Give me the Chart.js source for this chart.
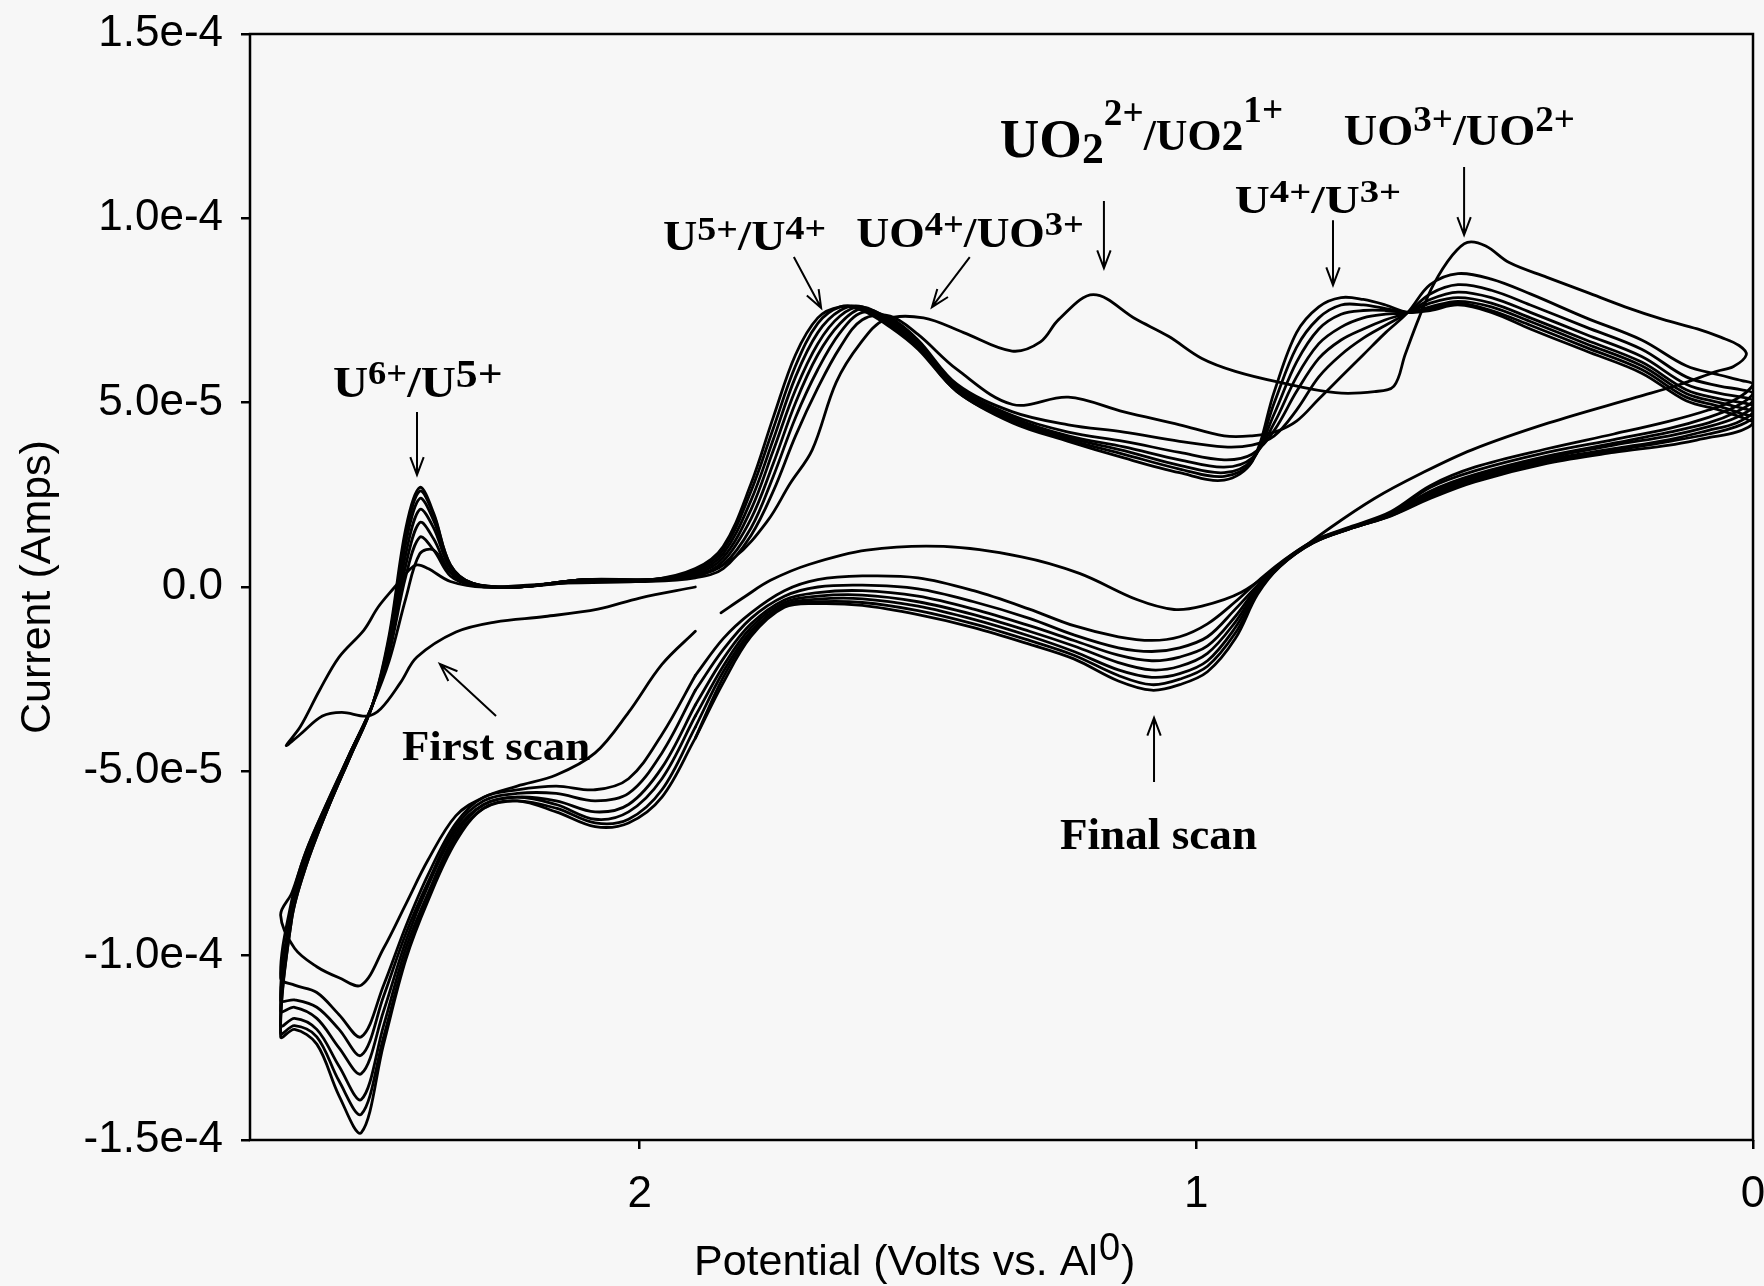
<!DOCTYPE html>
<html>
<head>
<meta charset="utf-8">
<title>Cyclic voltammogram - uranium species</title>
<script src="https://cdn.jsdelivr.net/npm/chart.js@4.4.1/dist/chart.umd.min.js"></script>
<style>
  html, body { margin: 0; padding: 0; background: #f7f7f7; overflow: hidden; }
  #wrap { width: 1764px; height: 1286px; }
</style>
</head>
<body>
<div id="wrap"><canvas id="cv" width="1764" height="1286"></canvas></div>
<script>
// potential grids (Volts vs Al0) used by scans 2..8
const lowerV = [1.90, 1.96, 2.02, 2.08, 2.15, 2.22, 2.28, 2.33, 2.38, 2.42, 2.46, 2.50, 2.54, 2.58, 2.62, 2.645];
const fwdV = [2.625, 2.60, 2.56, 2.52, 2.48, 2.45, 2.42, 2.395, 2.37, 2.34, 2.30, 2.22, 2.10, 1.98, 1.90,
  1.85, 1.80, 1.76, 1.72, 1.68, 1.64, 1.60, 1.55, 1.50, 1.43, 1.33, 1.23, 1.13, 1.03, 0.95,
  0.90, 0.86, 0.82, 0.78, 0.74, 0.70, 0.66, 0.62, 0.58, 0.53, 0.47, 0.40, 0.30, 0.20, 0.12, 0.06, 0.02, 0.0];
const revV = [0.03, 0.08, 0.15, 0.25, 0.37, 0.50, 0.58, 0.65, 0.72, 0.79, 0.85, 0.89, 0.93, 0.98, 1.03,
  1.08, 1.14, 1.22, 1.30, 1.40, 1.50, 1.60, 1.68, 1.74, 1.80, 1.85, 1.90];

// currents, in units of 1e-5 A
const lowerI2 = [-1.2, -2.1, -3.4, -4.5, -5.1, -5.4, -5.7, -6.2, -7.4, -8.6, -9.8, -10.8, -10.6, -10.3, -9.8, -8.9];
const lowerI3 = [-2.4, -4.0, -5.2, -5.5, -5.4, -5.5, -5.7, -6.4, -7.8, -9.2, -10.8, -12.2, -11.6, -11.0, -10.8, -10.6];
const lowerI4 = [-2.8, -4.5, -5.6, -5.8, -5.6, -5.6, -5.8, -6.5, -8.0, -9.4, -11.1, -12.7, -12.0, -11.4, -11.2, -11.2];
const lowerI5 = [-3.2, -4.9, -5.9, -6.1, -5.8, -5.7, -5.9, -6.6, -8.1, -9.6, -11.5, -13.2, -12.5, -11.7, -11.4, -11.5];
const lowerI6 = [-3.5, -5.2, -6.1, -6.3, -5.9, -5.7, -5.9, -6.7, -8.3, -9.8, -11.9, -13.9, -13.0, -12.0, -11.7, -11.9];
const lowerI7 = [-3.8, -5.5, -6.3, -6.4, -6.0, -5.8, -6.0, -6.8, -8.4, -10.0, -12.2, -14.3, -13.4, -12.2, -11.9, -12.1];
const lowerI8 = [-4.1, -5.7, -6.4, -6.5, -6.1, -5.8, -6.0, -6.9, -8.5, -10.1, -12.4, -14.8, -13.8, -12.4, -12.0, -12.2];

const fwdI2 = [-8.3, -7.2, -5.8, -4.5, -3.2, -2.0, -0.3, 0.9, 1.0, 0.4, 0.05, 0.0, 0.15, 0.15, 0.25,
  0.5, 1.4, 2.6, 4.1, 5.4, 6.5, 7.25, 7.35, 6.85, 5.9, 4.95, 5.15, 4.75, 4.4, 4.1,
  4.1, 4.2, 4.5, 5.1, 5.7, 6.3, 6.9, 7.45, 8.2, 8.5, 8.35, 7.95, 7.3, 6.7, 6.0, 5.75, 5.6, 5.5];
const fwdI3 = [-8.5, -7.2, -5.8, -4.5, -3.2, -1.8, 0.3, 1.35, 1.0, 0.3, 0.05, 0.0, 0.15, 0.2, 0.3,
  0.6, 1.6, 3.0, 4.6, 5.9, 6.9, 7.45, 7.3, 6.7, 5.5, 4.75, 4.4, 4.2, 3.95, 3.8,
  3.85, 4.1, 4.8, 5.7, 6.3, 6.75, 7.1, 7.45, 7.95, 8.2, 8.05, 7.65, 7.05, 6.45, 5.7, 5.45, 5.35, 5.25];
const fwdI4 = [-8.7, -7.3, -5.9, -4.5, -3.2, -1.7, 0.6, 1.75, 1.3, 0.4, 0.05, 0.0, 0.2, 0.2, 0.3,
  0.7, 1.85, 3.35, 5.0, 6.3, 7.15, 7.55, 7.25, 6.65, 5.45, 4.65, 4.2, 3.95, 3.65, 3.45,
  3.6, 4.25, 5.3, 6.2, 6.7, 7.0, 7.25, 7.45, 7.8, 8.0, 7.85, 7.45, 6.85, 6.25, 5.5, 5.25, 5.15, 5.05];
const fwdI5 = [-8.8, -7.4, -5.9, -4.5, -3.2, -1.6, 0.9, 2.1, 1.6, 0.5, 0.1, 0.0, 0.2, 0.2, 0.35,
  0.8, 2.1, 3.7, 5.35, 6.6, 7.35, 7.6, 7.2, 6.6, 5.4, 4.6, 4.1, 3.8, 3.45, 3.25,
  3.5, 4.45, 5.7, 6.6, 7.05, 7.3, 7.4, 7.45, 7.7, 7.85, 7.7, 7.3, 6.7, 6.1, 5.35, 5.1, 5.0, 4.9];
const fwdI6 = [-8.9, -7.5, -6.0, -4.6, -3.2, -1.5, 1.2, 2.4, 1.8, 0.55, 0.1, 0.0, 0.2, 0.2, 0.4,
  0.9, 2.35, 4.0, 5.7, 6.9, 7.5, 7.6, 7.15, 6.55, 5.35, 4.55, 4.05, 3.7, 3.3, 3.1,
  3.45, 4.7, 6.1, 7.0, 7.4, 7.5, 7.5, 7.45, 7.6, 7.75, 7.6, 7.2, 6.6, 6.0, 5.25, 5.0, 4.85, 4.75];
const fwdI7 = [-9.0, -7.6, -6.0, -4.6, -3.2, -1.4, 1.45, 2.6, 1.95, 0.6, 0.1, 0.0, 0.2, 0.2, 0.45,
  1.0, 2.6, 4.3, 6.0, 7.15, 7.6, 7.55, 7.1, 6.5, 5.3, 4.5, 4.0, 3.6, 3.2, 3.0,
  3.4, 5.0, 6.5, 7.3, 7.65, 7.65, 7.55, 7.45, 7.55, 7.7, 7.5, 7.1, 6.5, 5.9, 5.15, 4.9, 4.7, 4.6];
const fwdI8 = [-9.0, -7.6, -6.0, -4.6, -3.2, -1.3, 1.6, 2.7, 2.0, 0.6, 0.1, 0.0, 0.2, 0.2, 0.5,
  1.1, 2.8, 4.6, 6.3, 7.3, 7.6, 7.5, 7.05, 6.45, 5.3, 4.45, 3.95, 3.5, 3.1, 2.9,
  3.4, 5.3, 6.9, 7.6, 7.85, 7.8, 7.65, 7.45, 7.5, 7.65, 7.45, 7.0, 6.4, 5.8, 5.05, 4.8, 4.6, 4.45];

const revI2 = [5.1, 4.8, 4.5, 4.15, 3.75, 3.25, 2.75, 2.05, 1.65, 1.25, 0.65, 0.15, -0.4, -1.0, -1.35,
  -1.45, -1.35, -1.05, -0.6, -0.1, 0.25, 0.3, 0.2, -0.1, -0.7, -1.4, -2.4];
const revI3 = [4.9, 4.6, 4.3, 4.0, 3.65, 3.15, 2.7, 2.0, 1.63, 1.24, 0.63, 0.05, -0.6, -1.35, -1.65,
  -1.75, -1.65, -1.3, -0.85, -0.4, -0.05, 0.05, 0.0, -0.25, -0.85, -1.7, -2.8];
const revI4 = [4.75, 4.45, 4.2, 3.9, 3.55, 3.05, 2.6, 1.98, 1.62, 1.23, 0.61, 0.0, -0.8, -1.6, -1.9,
  -2.0, -1.85, -1.45, -1.05, -0.6, -0.25, -0.1, -0.15, -0.35, -1.0, -1.95, -3.2];
const revI5 = [4.6, 4.35, 4.1, 3.85, 3.5, 3.0, 2.55, 1.96, 1.61, 1.22, 0.6, -0.05, -0.95, -1.8, -2.15,
  -2.25, -2.05, -1.6, -1.2, -0.75, -0.4, -0.22, -0.25, -0.42, -1.1, -2.15, -3.5];
const revI6 = [4.45, 4.25, 4.0, 3.75, 3.45, 2.95, 2.5, 1.95, 1.6, 1.21, 0.58, -0.1, -1.1, -2.0, -2.35,
  -2.45, -2.25, -1.75, -1.33, -0.88, -0.52, -0.32, -0.33, -0.48, -1.2, -2.3, -3.8];
const revI7 = [4.35, 4.15, 3.95, 3.7, 3.4, 2.9, 2.45, 1.94, 1.6, 1.2, 0.56, -0.15, -1.25, -2.15, -2.5,
  -2.65, -2.4, -1.85, -1.45, -1.0, -0.64, -0.42, -0.4, -0.52, -1.27, -2.45, -4.1];
const revI8 = [4.2, 4.05, 3.85, 3.65, 3.35, 2.85, 2.4, 1.93, 1.6, 1.2, 0.55, -0.2, -1.4, -2.3, -2.65,
  -2.8, -2.55, -1.95, -1.55, -1.1, -0.75, -0.5, -0.45, -0.55, -1.34, -2.6, -4.1];

// first scan: starts at 1.9 V, goes to 2.635 V, back to 0 V and returns to 1.85 V
const firstScanV = [1.90, 2.00, 2.075, 2.17, 2.26, 2.33, 2.40, 2.43, 2.465, 2.49, 2.535, 2.57, 2.61, 2.635,
  2.61, 2.575, 2.54, 2.495, 2.47, 2.44, 2.415, 2.40, 2.38, 2.34, 2.28, 2.15, 2.00, 1.90, 1.83, 1.77,
  1.73, 1.69, 1.647, 1.604, 1.56, 1.49, 1.418, 1.331, 1.28, 1.247, 1.185, 1.108, 1.05, 0.99, 0.93,
  0.85, 0.75, 0.68, 0.645, 0.625, 0.60, 0.574, 0.54, 0.513, 0.48, 0.438, 0.37, 0.298, 0.23, 0.162,
  0.10, 0.057, 0.025, 0.012, 0.035, 0.065, 0.13, 0.209, 0.367, 0.505, 0.60, 0.68, 0.76, 0.85, 0.92,
  0.99, 1.04, 1.107, 1.21, 1.314, 1.454, 1.592, 1.696, 1.765, 1.81, 1.854];
const firstScanI = [0.0, -0.3, -0.6, -0.8, -0.95, -1.22, -1.9, -2.6, -3.3, -3.5, -3.4, -3.5, -4.0, -4.3,
  -3.8, -2.8, -1.9, -1.16, -0.55, 0.0, 0.45, 0.6, 0.5, 0.15, 0.0, 0.1, 0.15, 0.3, 0.8, 1.8,
  2.8, 3.72, 5.55, 6.6, 7.25, 7.3, 6.9, 6.4, 6.65, 7.26, 7.93, 7.26, 6.8, 6.2, 5.85,
  5.55, 5.27, 5.3, 5.45, 6.3, 7.3, 8.2, 9.0, 9.35, 9.25, 8.8, 8.4, 7.99, 7.6, 7.26,
  7.0, 6.77, 6.55, 6.3, 5.98, 5.85, 5.5, 5.15, 4.45, 3.72, 3.05, 2.4, 1.6, 0.6, -0.15,
  -0.52, -0.61, -0.34, 0.37, 0.82, 1.1, 1.0, 0.61, 0.18, -0.25, -0.7];

const xTickValues = [0, 1, 2];
const xTickLabels = ['0', '1', '2'];
const yTickValues = [-15, -10, -5, 0, 5, 10, 15];
const yTickLabels = ['-1.5e-4', '-1.0e-4', '-5.0e-5', '0.0', '5.0e-5', '1.0e-4', '1.5e-4'];

// peak labels: [text, size factor, vertical shift in em]
const labelParts = [
  [['U', 1, 0], ['6+', 0.75, -0.3], ['/U', 1, 0], ['5+', 0.9, -0.22]],
  [['U', 1, 0], ['5+', 0.8, -0.25], ['/U', 1, 0], ['4+', 0.8, -0.27]],
  [['UO', 1, 0], ['4+', 0.8, -0.27], ['/UO', 1, 0], ['3+', 0.8, -0.27]],
  [['UO', 1.25, 0], ['2', 1, 0.14], ['2+', 0.85, -0.72], ['/UO2', 1, -0.16], ['1+', 0.85, -0.8]],
  [['U', 1, 0], ['4+', 0.8, -0.28], ['/U', 1, 0], ['3+', 0.8, -0.28]],
  [['UO', 1, 0], ['3+', 0.8, -0.3], ['/UO', 1, 0], ['2+', 0.8, -0.3]],
  [['First scan', 1, 0]],
  [['Final scan', 1, 0]]
];
const labelAt = [[2.551, 5.15], [1.958, 9.14], [1.611, 9.22], [1.353, 11.66], [0.931, 10.14], [0.735, 11.99], [2.427, -4.69], [1.245, -7.11]];
const labelEndV = [2.246, 1.665, 1.202, 0.844, 0.632, 0.320, 2.089, 0.891];
const labelSize = [44, 42, 43, 44, 40, 45, 42, 45];
const arrowFrom = [[2.400, 4.75], [1.723, 8.95], [1.407, 8.95], [1.166, 10.47], [0.7545, 9.95], [0.519, 11.39], [2.258, -3.50], [1.076, -5.29]];
const arrowTo = [[2.400, 3.04], [1.674, 7.57], [1.475, 7.59], [1.166, 8.65], [0.7545, 8.19], [0.519, 9.55], [2.359, -2.09], [1.076, -3.55]];

const laterScans = [
  [lowerI2, fwdI2, revI2], [lowerI3, fwdI3, revI3], [lowerI4, fwdI4, revI4], [lowerI5, fwdI5, revI5],
  [lowerI6, fwdI6, revI6], [lowerI7, fwdI7, revI7], [lowerI8, fwdI8, revI8]
];

function pts(vs, is) {
  return vs.map((v, k) => ({x: v, y: is[k]})).filter(p => p.y !== undefined);
}

const datasets = [{label: 'Scan 1', data: pts(firstScanV, firstScanI)}];
laterScans.forEach((s, k) => {
  datasets.push({label: 'Scan ' + (k + 2), data: pts(lowerV, s[0]).concat(pts(fwdV, s[1]), pts(revV, s[2]))});
});
datasets.forEach(d => Object.assign(d, {
  borderColor: '#000', borderWidth: 2.8, pointRadius: 0, tension: 0.35, fill: false,
  borderJoinStyle: 'round', borderCapStyle: 'round'
}));

const SANS = "'Liberation Sans', Arial, sans-serif";
const SERIF = "'Liberation Serif', 'Times New Roman', serif";

function drawLabel(ctx, parts, px, py, base, targetW) {
  let w = 0;
  parts.forEach(p => {
    ctx.font = 'bold ' + (base * p[1]) + 'px ' + SERIF;
    w += ctx.measureText(p[0]).width;
  });
  const sx = targetW > 0 ? Math.min(1.35, Math.max(0.8, targetW / w)) : 1;
  ctx.save();
  ctx.translate(px, py);
  ctx.scale(sx, 1);
  let cx = 0;
  parts.forEach(p => {
    ctx.font = 'bold ' + (base * p[1]) + 'px ' + SERIF;
    ctx.fillText(p[0], cx, base * p[2]);
    cx += ctx.measureText(p[0]).width;
  });
  ctx.restore();
}

function drawArrow(ctx, x0, y0, x1, y1) {
  const ang = Math.atan2(y1 - y0, x1 - x0), L = 19, sp = 0.36;
  ctx.beginPath();
  ctx.moveTo(x0, y0);
  ctx.lineTo(x1, y1);
  ctx.moveTo(x1 - L * Math.cos(ang - sp), y1 - L * Math.sin(ang - sp));
  ctx.lineTo(x1, y1);
  ctx.lineTo(x1 - L * Math.cos(ang + sp), y1 - L * Math.sin(ang + sp));
  ctx.stroke();
}

const decor = {
  id: 'decor',
  afterDraw(chart) {
    const {ctx, chartArea: a, scales: {x, y}} = chart;
    ctx.save();
    ctx.strokeStyle = '#000';
    ctx.fillStyle = '#000';
    ctx.lineWidth = 2.5;
    ctx.strokeRect(a.left, a.top, a.right - a.left, a.bottom - a.top);

    // y axis title
    ctx.save();
    ctx.translate(38, (a.top + a.bottom) / 2);
    ctx.rotate(-Math.PI / 2);
    ctx.font = '43px ' + SANS;
    ctx.textAlign = 'center';
    ctx.textBaseline = 'middle';
    ctx.fillText('Current (Amps)', 0, 0);
    ctx.restore();

    // x axis title with superscript
    ctx.textBaseline = 'alphabetic';
    let tx = 694;
    const ty = 1275;
    ctx.font = '43px ' + SANS;
    ctx.fillText('Potential (Volts vs. Al', tx, ty);
    tx += ctx.measureText('Potential (Volts vs. Al').width;
    ctx.font = '38px ' + SANS;
    ctx.fillText('0', tx + 1, ty - 15);
    tx += ctx.measureText('0').width + 2;
    ctx.font = '43px ' + SANS;
    ctx.fillText(')', tx, ty);

    // peak labels
    labelParts.forEach((parts, k) => {
      const px = x.getPixelForValue(labelAt[k][0]);
      const py = y.getPixelForValue(labelAt[k][1]);
      const w = x.getPixelForValue(labelEndV[k]) - px;
      drawLabel(ctx, parts, px, py, labelSize[k], w);
    });

    // arrows
    ctx.lineWidth = 2;
    arrowFrom.forEach((f, k) => {
      drawArrow(ctx, x.getPixelForValue(f[0]), y.getPixelForValue(f[1]),
        x.getPixelForValue(arrowTo[k][0]), y.getPixelForValue(arrowTo[k][1]));
    });
    ctx.restore();
  }
};

Chart.defaults.font.family = SANS;
Chart.defaults.color = '#000';

new Chart(document.getElementById('cv'), {
  type: 'line',
  data: {datasets},
  options: {
    responsive: false,
    animation: false,
    layout: {padding: {top: 34, right: 11, left: 0, bottom: 0}},
    plugins: {legend: {display: false}, tooltip: {enabled: false}},
    scales: {
      x: {
        type: 'linear', reverse: true, min: 0, max: 2.7,
        afterBuildTicks: s => { s.ticks = xTickValues.map(v => ({value: v})); },
        afterFit: s => { s.height = 146; s.paddingLeft = 0; s.paddingRight = 0; },
        ticks: {
          callback: v => xTickLabels[xTickValues.indexOf(v)],
          font: {size: 44}, color: '#000', padding: 19, maxRotation: 0, autoSkip: false
        },
        grid: {drawOnChartArea: false, drawTicks: true, tickLength: 9, color: '#000', lineWidth: 2.5},
        border: {display: false}
      },
      y: {
        type: 'linear', min: -15, max: 15,
        afterBuildTicks: s => { s.ticks = yTickValues.map(v => ({value: v})); },
        afterFit: s => { s.width = 250; s.paddingTop = 0; s.paddingBottom = 0; },
        ticks: {
          callback: v => yTickLabels[yTickValues.indexOf(v)],
          font: {size: 44}, color: '#000', padding: 18, autoSkip: false
        },
        grid: {drawOnChartArea: false, drawTicks: true, tickLength: 9, color: '#000', lineWidth: 2.5},
        border: {display: false}
      }
    }
  },
  plugins: [decor]
});
</script>
</body>
</html>
